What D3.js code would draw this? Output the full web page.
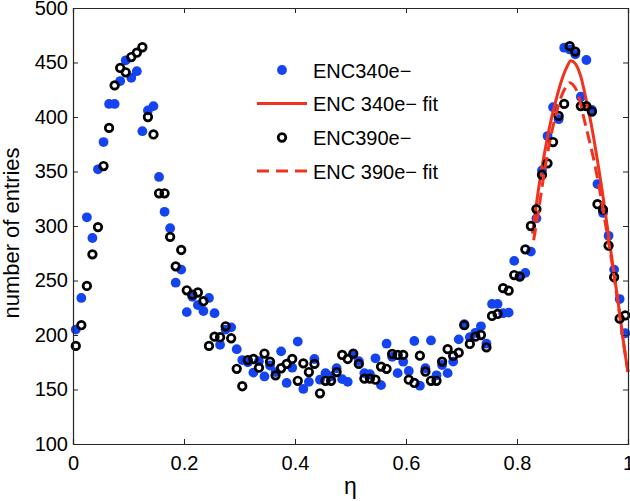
<!DOCTYPE html>
<html>
<head>
<meta charset="utf-8">
<script src="https://cdn.jsdelivr.net/npm/d3@7"></script>
<style>
  html, body { margin: 0; padding: 0; background: #fff; }
  svg { display: block; font-family: "Liberation Sans", Arial, Helvetica, sans-serif; }
</style>
</head>
<body>
<svg id="chart" width="630" height="501"></svg>
<script>
// ---- data ----
const etaBins = d3.range(100).map(i => +(0.005 + 0.01 * i).toFixed(3));

const enc340 = [
  205, 234, 308, 289, 352, 377, 412, 412, 433, 452,
  436, 442, 387, 406, 410, 345, 313, 298, 248, 260,
  221, 235, 227.5, 222, 234, 220, 191, 205, 207, 187,
  177, 175, 165.5, 176, 162, 172, 166, 185, 156, 170,
  194, 150.5, 157, 178, 159, 165, 162, 169.5, 159.5, 157,
  182, 176, 165, 164, 178.6, 154, 192, 180, 165, 175.5,
  167, 194.5, 153.5, 169.5, 195, 163, 172.5, 165, 175.6, 196,
  210, 198, 202, 208, 192, 228.5, 228.5, 220, 220.5, 268,
  254, 257, 276.5, 307, 351, 382.5, 409, 398, 463.6, 462,
  457.5, 418.6, 452.3, 406.4, 338.5, 312, 291, 260, 233, 201.6
];

const enc390 = [
  190, 209, 245, 274, 299, 355, 390, 429, 445, 441,
  455, 459, 464, 400, 384, 330, 330, 290, 263, 278,
  241, 237, 239, 231, 190, 198.5, 198, 208, 197, 169,
  153, 177, 178, 170, 183, 175.5, 163, 169.5, 173.5, 178,
  158, 174, 166, 173.5, 146.5, 158, 158, 166, 181.7, 178,
  183, 173.5, 160, 160, 159, 171, 169, 182.6, 181.7, 181.7,
  159, 156, 181, 166.5, 158, 158, 175.6, 187, 180.8, 183.8,
  209, 191.8, 198.5, 200, 188.7, 217.5, 219.3, 243, 240.7, 255,
  253.6, 278.6, 300, 315.5, 347, 357.5, 377, 401, 412, 465,
  460, 410, 410, 405, 320, 315, 282, 253, 215, 218
];

// fit curves
const fit340Eta = [0.828, 0.84, 0.85, 0.86, 0.87, 0.88, 0.89, 0.897, 0.905, 0.915, 0.925, 0.935, 0.945, 0.955, 0.965, 0.975, 0.985, 0.995, 1.0];
const fit340Val = [293, 338, 368, 394, 415, 433, 446, 451.5, 449, 437, 415, 390, 360, 327, 291, 256, 220, 182, 166];
const fit390Eta = [0.83, 0.84, 0.85, 0.86, 0.87, 0.88, 0.89, 0.895, 0.9, 0.91, 0.92, 0.93, 0.94, 0.95, 0.96, 0.97, 0.98, 0.99, 1.0];
const fit390Val = [287, 318, 352, 380, 402, 419, 429, 431.5, 430, 421, 400, 379, 357, 330, 300, 270, 236, 200, 166];

const xTicks = [0, 0.2, 0.4, 0.6, 0.8, 1];
const yTicks = [100, 150, 200, 250, 300, 350, 400, 450, 500];
const legendLabels = ["ENC340e\u2212", "ENC 340e\u2212 fit", "ENC390e\u2212", "ENC 390e\u2212 fit"];

// ---- drawing ----
const W = 630, H = 501;
const margin = { left: 73, right: 2, top: 8, bottom: 57 };
const svg = d3.select("#chart");
const blue = "#1443f0", red = "#f0321e", axisCol = "#262626";

const x = d3.scaleLinear().domain([0, 1]).range([margin.left, W - margin.right]);
const y = d3.scaleLinear().domain([100, 500]).range([H - margin.bottom, margin.top]);

// data layers
const gData = svg.append("g");
gData.selectAll("circle.b").data(etaBins.map((e, i) => [e, enc340[i]]))
  .join("circle").attr("class", "b")
  .attr("cx", d => x(d[0])).attr("cy", d => y(d[1])).attr("r", 4.9)
  .attr("fill", blue);

const line = d3.line().x(d => x(d[0])).y(d => y(d[1])).curve(d3.curveMonotoneX);

gData.append("path").datum(fit340Eta.map((e, i) => [e, fit340Val[i]]))
  .attr("d", line).attr("fill", "none").attr("stroke", red).attr("stroke-width", 3);

gData.selectAll("circle.k").data(etaBins.map((e, i) => [e, enc390[i]]))
  .join("circle").attr("class", "k")
  .attr("cx", d => x(d[0])).attr("cy", d => y(d[1])).attr("r", 3.8)
  .attr("fill", "none").attr("stroke", "#000").attr("stroke-width", 2.7);

gData.append("path").datum(fit390Eta.map((e, i) => [e, fit390Val[i]]))
  .attr("d", line).attr("fill", "none").attr("stroke", red).attr("stroke-width", 3)
  .attr("stroke-dasharray", "12,6");

// axes
const fs = "20px";
const gx = svg.append("g").attr("transform", `translate(0,${y(100)})`)
  .call(d3.axisBottom(x).tickValues(xTicks).tickSize(-5).tickPadding(12).tickFormat(d3.format("")));
const gxt = svg.append("g").attr("transform", `translate(0,${y(500)})`)
  .call(d3.axisTop(x).tickValues(xTicks).tickSize(-5).tickFormat(""));
const gy = svg.append("g").attr("transform", `translate(${x(0)},0)`)
  .call(d3.axisLeft(y).tickValues(yTicks).tickSize(-5).tickPadding(5));
const gyr = svg.append("g").attr("transform", `translate(${x(1)},0)`)
  .call(d3.axisRight(y).tickValues(yTicks).tickSize(-5).tickFormat(""));

[gx, gxt, gy, gyr].forEach(g => {
  g.selectAll("path.domain").attr("stroke", axisCol).attr("stroke-width", 1.2);
  g.selectAll(".tick line").attr("stroke", axisCol);
  g.selectAll("text").attr("fill", "#000").style("font-size", fs)
    .style("font-family", '"Liberation Sans", Arial, sans-serif');
});

// axis titles
svg.append("text").attr("x", x(0.5)).attr("y", 494).attr("text-anchor", "middle")
  .style("font-size", "23px").text("\u03b7");
svg.append("text").attr("transform", `translate(19,233) rotate(-90)`)
  .attr("text-anchor", "middle").style("font-size", "22px").text("number of entries");

// legend
const lg = svg.append("g");
const rowY = [70, 103.5, 137.5, 171];
const symX = 282, lineX0 = 257, lineX1 = 307, textX = 313;
lg.append("circle").attr("cx", symX).attr("cy", rowY[0]).attr("r", 4.9).attr("fill", blue);
lg.append("line").attr("x1", lineX0).attr("x2", lineX1).attr("y1", rowY[1]).attr("y2", rowY[1])
  .attr("stroke", red).attr("stroke-width", 3);
lg.append("circle").attr("cx", symX).attr("cy", rowY[2]).attr("r", 3.8)
  .attr("fill", "none").attr("stroke", "#000").attr("stroke-width", 2.7);
lg.append("line").attr("x1", lineX0).attr("x2", lineX1).attr("y1", rowY[3]).attr("y2", rowY[3])
  .attr("stroke", red).attr("stroke-width", 3).attr("stroke-dasharray", "12,7");
legendLabels.forEach((t, i) => {
  lg.append("text").attr("x", textX).attr("y", rowY[i] + 7.5)
    .style("font-size", "20px").text(t);
});
</script>
